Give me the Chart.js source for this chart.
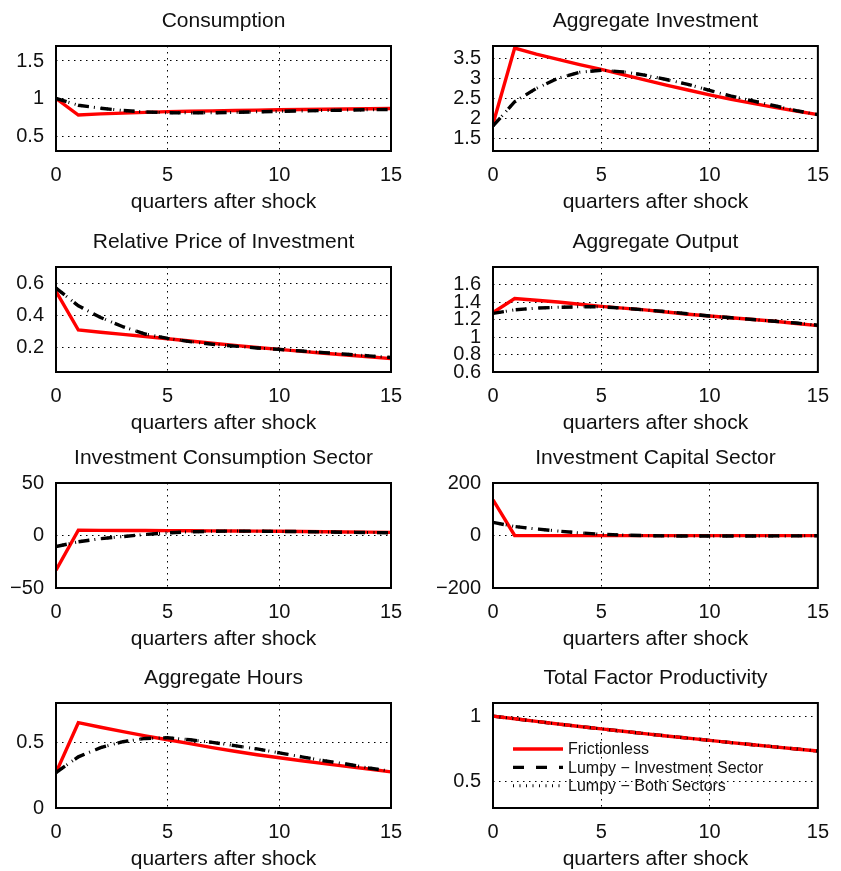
<!DOCTYPE html>
<html>
<head>
<meta charset="utf-8">
<script src="https://cdn.jsdelivr.net/npm/chart.js@4/dist/chart.umd.min.js"></script>
<style>
  html, body { margin: 0; padding: 0; background: #fff; overflow: hidden; }
  .panel { position: absolute; }
</style>
</head>
<body>
<script>
// impulse responses, quarters 0..15
const quarters = [0, 1, 2, 3, 4, 5, 6, 7, 8, 9, 10, 11, 12, 13, 14, 15];
const seriesNames = ['Frictionless', 'Lumpy \u2212 Investment Sector', 'Lumpy \u2212 Both Sectors'];

const consFrictionless = [1.0, 0.78, 0.795, 0.805, 0.815, 0.825, 0.83, 0.835, 0.84, 0.845, 0.85, 0.853, 0.857, 0.86, 0.864, 0.867];
const consLumpyInv     = [1.0, 0.91, 0.87, 0.84, 0.82, 0.81, 0.808, 0.81, 0.815, 0.822, 0.828, 0.834, 0.84, 0.845, 0.85, 0.855];
const consLumpyBoth    = [1.0, 0.91, 0.87, 0.84, 0.82, 0.81, 0.808, 0.81, 0.815, 0.822, 0.828, 0.834, 0.84, 0.845, 0.85, 0.855];

const invFrictionless = [1.87, 3.75, 3.6, 3.47, 3.34, 3.22, 3.09, 2.96, 2.83, 2.71, 2.59, 2.48, 2.38, 2.28, 2.19, 2.1];
const invLumpyInv     = [1.82, 2.42, 2.75, 3.0, 3.15, 3.2, 3.16, 3.08, 2.97, 2.85, 2.7, 2.56, 2.44, 2.32, 2.2, 2.1];
const invLumpyBoth    = [1.82, 2.42, 2.75, 3.0, 3.15, 3.2, 3.16, 3.08, 2.97, 2.85, 2.7, 2.56, 2.44, 2.32, 2.2, 2.1];

const priceFrictionless = [0.55, 0.31, 0.296, 0.283, 0.27, 0.256, 0.242, 0.228, 0.215, 0.202, 0.19, 0.178, 0.166, 0.155, 0.144, 0.133];
const priceLumpyInv     = [0.57, 0.46, 0.387, 0.33, 0.285, 0.258, 0.238, 0.222, 0.21, 0.199, 0.19, 0.18, 0.17, 0.16, 0.15, 0.14];
const priceLumpyBoth    = [0.57, 0.46, 0.387, 0.33, 0.285, 0.258, 0.238, 0.222, 0.21, 0.199, 0.19, 0.18, 0.17, 0.16, 0.15, 0.14];

const outFrictionless = [1.28, 1.44, 1.42, 1.4, 1.375, 1.35, 1.33, 1.31, 1.285, 1.26, 1.24, 1.22, 1.2, 1.18, 1.155, 1.13];
const outLumpyInv     = [1.27, 1.31, 1.33, 1.34, 1.345, 1.345, 1.33, 1.31, 1.29, 1.265, 1.24, 1.22, 1.2, 1.18, 1.16, 1.135];
const outLumpyBoth    = [1.27, 1.31, 1.33, 1.34, 1.345, 1.345, 1.33, 1.31, 1.29, 1.265, 1.24, 1.22, 1.2, 1.18, 1.16, 1.135];

const icsFrictionless = [-33, 5, 4.9, 4.8, 4.7, 4.6, 4.5, 4.4, 4.3, 4.2, 4.0, 3.8, 3.6, 3.4, 3.2, 3.0];
const icsLumpyInv     = [-10.5, -6, -3, -1, 1, 2.5, 3.5, 4, 4.2, 4.1, 3.9, 3.7, 3.4, 3.1, 2.8, 2.6];
const icsLumpyBoth    = [-10.5, -6, -3, -1, 1, 2.5, 3.5, 4, 4.2, 4.1, 3.9, 3.7, 3.4, 3.1, 2.8, 2.6];

const ikFrictionless = [136, 0, -0.5, -0.5, -0.5, -0.5, -0.5, -0.5, -0.5, -0.5, -0.5, -0.5, -0.5, -0.5, -0.5, -0.5];
const ikLumpyInv     = [50, 34, 25, 17, 10, 5, 1.5, -0.5, -1.5, -2, -2, -2, -1.8, -1.6, -1.4, -1.2];
const ikLumpyBoth    = [50, 34, 25, 17, 10, 5, 1.5, -0.5, -1.5, -2, -2, -2, -1.8, -1.6, -1.4, -1.2];

const hoursFrictionless = [0.27, 0.65, 0.615, 0.582, 0.55, 0.52, 0.49, 0.46, 0.432, 0.406, 0.383, 0.36, 0.338, 0.317, 0.297, 0.275];
const hoursLumpyInv     = [0.27, 0.39, 0.46, 0.505, 0.53, 0.535, 0.52, 0.5, 0.475, 0.45, 0.42, 0.39, 0.36, 0.335, 0.305, 0.28];
const hoursLumpyBoth    = [0.27, 0.39, 0.46, 0.505, 0.53, 0.535, 0.52, 0.5, 0.475, 0.45, 0.42, 0.39, 0.36, 0.335, 0.305, 0.28];

const tfpFrictionless = [1.0, 0.98, 0.96, 0.94, 0.921, 0.903, 0.885, 0.867, 0.849, 0.832, 0.815, 0.798, 0.782, 0.766, 0.75, 0.734];
const tfpLumpyInv     = [1.0, 0.98, 0.96, 0.94, 0.921, 0.903, 0.885, 0.867, 0.849, 0.832, 0.815, 0.798, 0.782, 0.766, 0.75, 0.734];
const tfpLumpyBoth    = [1.0, 0.98, 0.96, 0.94, 0.921, 0.903, 0.885, 0.867, 0.849, 0.832, 0.815, 0.798, 0.782, 0.766, 0.75, 0.734];

const xTicks = [0, 5, 10, 15];

const panels = [
  { title: 'Consumption', col: 0, row: 0, yMin: 0.3, yMax: 1.7, yTicks: [0.5, 1, 1.5],
    series: [consFrictionless, consLumpyInv, consLumpyBoth] },
  { title: 'Aggregate Investment', col: 1, row: 0, yMin: 1.2, yMax: 3.8, yTicks: [1.5, 2, 2.5, 3, 3.5],
    series: [invFrictionless, invLumpyInv, invLumpyBoth] },
  { title: 'Relative Price of Investment', col: 0, row: 1, yMin: 0.05, yMax: 0.7, yTicks: [0.2, 0.4, 0.6],
    series: [priceFrictionless, priceLumpyInv, priceLumpyBoth] },
  { title: 'Aggregate Output', col: 1, row: 1, yMin: 0.6, yMax: 1.8, yTicks: [0.6, 0.8, 1, 1.2, 1.4, 1.6],
    series: [outFrictionless, outLumpyInv, outLumpyBoth] },
  { title: 'Investment Consumption Sector', col: 0, row: 2, yMin: -50, yMax: 50, yTicks: [-50, 0, 50],
    series: [icsFrictionless, icsLumpyInv, icsLumpyBoth] },
  { title: 'Investment Capital Sector', col: 1, row: 2, yMin: -200, yMax: 200, yTicks: [-200, 0, 200],
    series: [ikFrictionless, ikLumpyInv, ikLumpyBoth] },
  { title: 'Aggregate Hours', col: 0, row: 3, yMin: 0, yMax: 0.8, yTicks: [0, 0.5],
    series: [hoursFrictionless, hoursLumpyInv, hoursLumpyBoth] },
  { title: 'Total Factor Productivity', col: 1, row: 3, yMin: 0.3, yMax: 1.1, yTicks: [0.5, 1],
    series: [tfpFrictionless, tfpLumpyInv, tfpLumpyBoth], legend: true, redOnTop: true }
];

// page geometry
const colLeft = [0, 420];
const colWidth = [420, 421];
const yAxisWidth = [56, 73];
const padRight = [29, 12];
const rowTop = [0, 221, 437, 657];
const panelHeight = 220;

const FONT = "'Liberation Sans', Arial, Helvetica, sans-serif";
const TEXT = '#111';

const lineStyles = [
  { borderColor: '#ff0000', borderWidth: 3.4, borderDash: [] },
  { borderColor: '#000000', borderWidth: 3.4, borderDash: [11, 12] },
  { borderColor: '#000000', borderWidth: 3, borderDash: [1, 5.5] }
];

// black box round the plot area
const framePlugin = {
  id: 'frame',
  afterDatasetsDraw(chart) {
    const a = chart.chartArea, ctx = chart.ctx;
    ctx.save();
    ctx.strokeStyle = '#000';
    ctx.lineWidth = 2;
    ctx.setLineDash([]);
    ctx.strokeRect(a.left, a.top, a.right - a.left, a.bottom - a.top);
    ctx.restore();
  }
};

// legend drawn inside the plot area (TFP panel only)
const insideLegend = {
  id: 'insideLegend',
  afterDraw(chart) {
    const a = chart.chartArea, ctx = chart.ctx;
    ctx.save();
    ctx.font = '16px ' + FONT;
    ctx.textBaseline = 'middle';
    ctx.textAlign = 'left';
    seriesNames.forEach((name, i) => {
      const y = a.top + 46 + i * 18.4;
      const st = lineStyles[i];
      ctx.beginPath();
      ctx.strokeStyle = st.borderColor;
      ctx.lineWidth = st.borderWidth;
      ctx.setLineDash(st.borderDash);
      ctx.moveTo(a.left + 20, y);
      ctx.lineTo(a.left + 70, y);
      ctx.stroke();
      ctx.setLineDash([]);
      ctx.fillStyle = TEXT;
      ctx.fillText(name, a.left + 75, y + 1);
    });
    ctx.restore();
  }
};

const fmt = v => String(v).replace('-', '\u2212');

panels.forEach((p, n) => {
  const div = document.createElement('div');
  div.className = 'panel';
  div.style.left = colLeft[p.col] + 'px';
  div.style.top = rowTop[p.row] + 'px';
  const canvas = document.createElement('canvas');
  canvas.width = colWidth[p.col];
  canvas.height = panelHeight;
  div.appendChild(canvas);
  document.body.appendChild(div);

  const datasets = p.series.map((vals, i) => ({
    label: seriesNames[i],
    data: quarters.map((q, k) => ({ x: q, y: vals[k] })),
    borderColor: lineStyles[i].borderColor,
    borderWidth: lineStyles[i].borderWidth,
    borderDash: lineStyles[i].borderDash,
    borderCapStyle: 'butt',
    borderJoinStyle: 'miter',
    pointRadius: 0,
    tension: 0,
    fill: false,
    // dotted on top; dashed above red except where red sits on top
    order: i === 2 ? 0 : (p.redOnTop ? (i === 0 ? 1 : 2) : (i === 0 ? 2 : 1))
  }));

  const gridStyle = { color: '#000', lineWidth: 1, drawTicks: false };
  const borderStyle = { display: false, dash: [1.5, 4.5] };

  new Chart(canvas, {
    type: 'line',
    data: { datasets },
    options: {
      responsive: false,
      animation: false,
      layout: { padding: { left: 0, right: padRight[p.col], top: 0, bottom: 0 } },
      plugins: {
        legend: { display: false },
        tooltip: { enabled: false },
        title: {
          display: true,
          text: p.title,
          fullSize: false,
          color: TEXT,
          font: { family: FONT, size: 21, weight: 'normal' },
          padding: { top: 8.4, bottom: 12.4 }
        }
      },
      scales: {
        x: {
          type: 'linear',
          min: 0,
          max: 15,
          afterBuildTicks: s => { s.ticks = xTicks.map(v => ({ value: v })); },
          ticks: { color: TEXT, font: { family: FONT, size: 20 }, padding: 12, maxRotation: 0, autoSkip: false },
          grid: gridStyle,
          border: borderStyle,
          title: {
            display: true,
            text: 'quarters after shock',
            color: TEXT,
            font: { family: FONT, size: 21 },
            padding: { top: 0, bottom: 5 }
          },
          afterFit: s => { s.height = 69; }
        },
        y: {
          min: p.yMin,
          max: p.yMax,
          afterBuildTicks: s => { s.ticks = p.yTicks.map(v => ({ value: v })); },
          ticks: { color: TEXT, font: { family: FONT, size: 20 }, padding: 12, autoSkip: false, callback: v => fmt(v) },
          grid: gridStyle,
          border: borderStyle,
          afterFit: s => { s.width = yAxisWidth[p.col]; }
        }
      }
    },
    plugins: p.legend ? [framePlugin, insideLegend] : [framePlugin]
  });
});
</script>
</body>
</html>
